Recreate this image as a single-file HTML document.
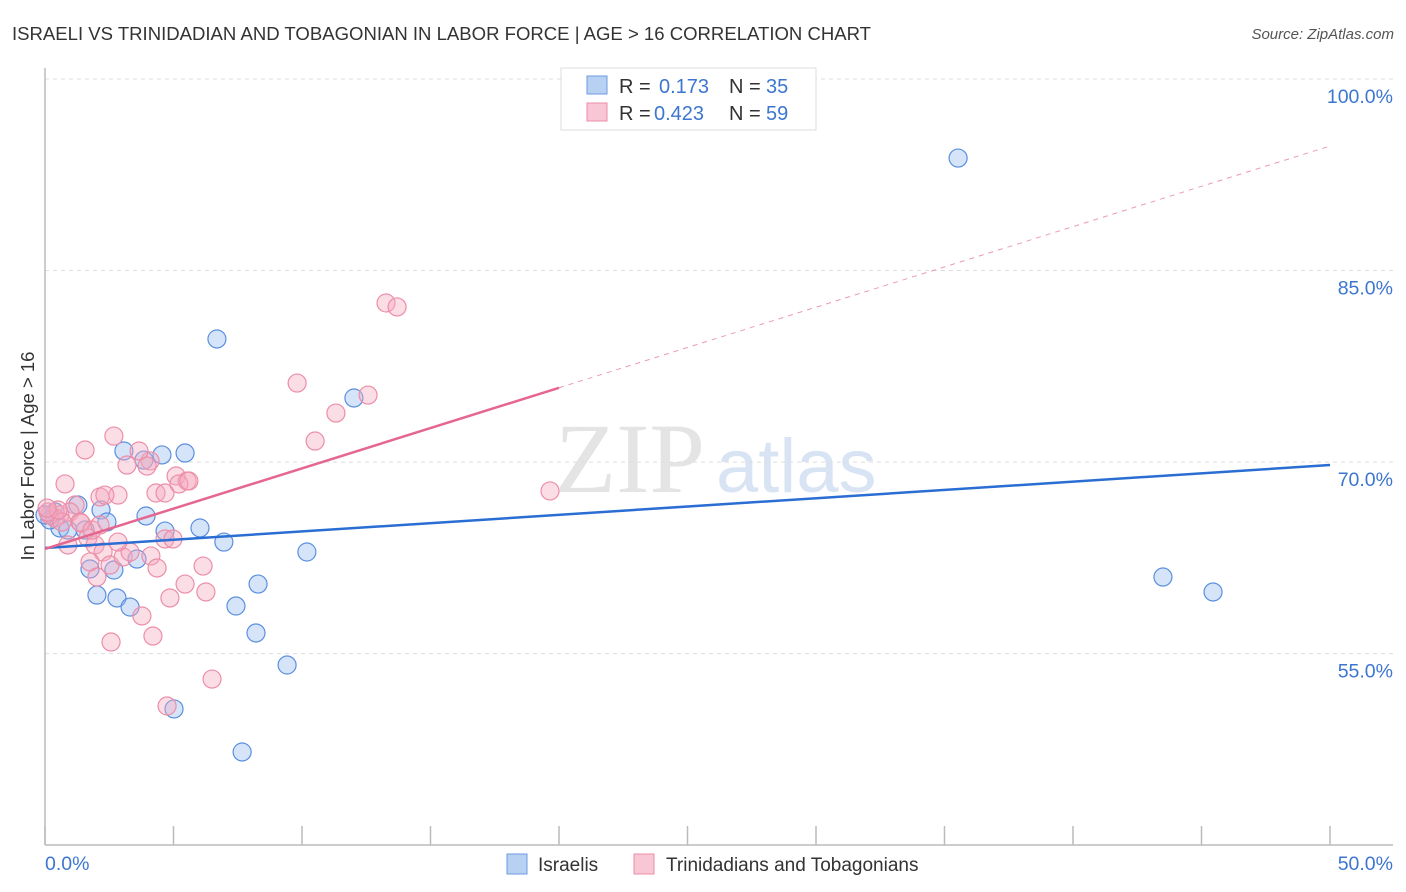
<!DOCTYPE html>
<html><head><meta charset="utf-8"><style>
body{margin:0;background:#fff;font-family:"Liberation Sans",sans-serif;}
svg{display:block}
</style></head><body>
<svg id="chart" width="1406" height="892">
<text x="12" y="40" font-size="18.5" fill="#333" textLength="859" lengthAdjust="spacingAndGlyphs">ISRAELI VS TRINIDADIAN AND TOBAGONIAN IN LABOR FORCE | AGE &gt; 16 CORRELATION CHART</text>
<text x="1394" y="39" font-size="15" fill="#555" font-style="italic" text-anchor="end">Source: ZipAtlas.com</text>
<text x="0" y="0" transform="translate(34,456) rotate(-90)" font-size="18.5" fill="#333" text-anchor="middle">In Labor Force | Age &gt; 16</text>
<text x="555" y="492" font-size="100" fill="#e4e4e4" font-family="Liberation Serif,serif">ZIP</text>
<text x="716" y="492" font-size="76" fill="#d8e4f4">atlas</text>
<g id="grid"></g>
<g id="axes"></g>
<g id="pts"></g>
<g id="lines"></g>
<g>
<rect x="561" y="68" width="255" height="62" fill="#fff" stroke="#ddd"/>
<rect x="587" y="76" width="20" height="18" fill="#b8d0f2" stroke="#6d9be0"/>
<rect x="587" y="103" width="20" height="18" fill="#f8c6d4" stroke="#ec8ea8"/>
<text x="619" y="93" font-size="20" fill="#333">R = <tspan x="659" fill="#3d76d0">0.173</tspan><tspan x="729">N = </tspan><tspan x="766" fill="#3d76d0">35</tspan></text>
<text x="619" y="120" font-size="20" fill="#333">R = <tspan x="654" fill="#3d76d0">0.423</tspan><tspan x="729">N = </tspan><tspan x="766" fill="#3d76d0">59</tspan></text>
</g>
<g>
<rect x="507" y="854" width="20" height="20" fill="#b8d0f2" stroke="#6d9be0"/>
<text x="538" y="871" font-size="19" fill="#333">Israelis</text>
<rect x="634" y="854" width="20" height="20" fill="#f8c6d4" stroke="#ec8ea8"/>
<text x="666" y="871" font-size="19" fill="#333">Trinidadians and Tobagonians</text>
</g>
</svg>
<script>
const blueX=[6.69,12.02,35.53,43.5,45.45,3.07,4.55,5.45,3.85,3.93,4.67,6.03,6.96,2.18,2.41,1.28,0.58,0.19,0.39,10.19,3.58,1.75,2.68,2.02,2.8,3.31,7.43,8.29,8.21,9.42,5.02,7.67,0,0.89,1.56];
const blueY=[79.64,75.02,93.81,61.0,59.83,70.87,70.56,70.71,70.16,65.78,64.6,64.84,63.74,66.25,65.31,66.64,64.84,65.47,66.09,62.96,62.41,61.63,61.55,59.59,59.36,58.65,58.73,60.45,56.62,54.11,50.67,47.3,65.86,64.68,64.68];
const pinkX=[2.68,1.56,4.09,3.66,3.19,3.97,0.78,2.14,2.84,4.32,4.67,5.1,5.53,5.21,5.6,9.81,10.51,11.32,12.57,13.27,13.7,19.65,1.17,0.97,1.36,0.58,0.39,0.19,0.12,1.67,1.95,2.26,2.53,3.04,3.31,4.12,4.36,0.89,1.75,2.02,2.84,4.67,4.98,6.15,5.45,4.86,6.26,3.77,4.2,2.57,6.5,4.75,1.4,1.83,2.14,0.66,0.51,0.08,2.33];
const pinkY=[72.04,70.95,70.09,70.87,69.77,69.69,68.29,67.27,67.42,67.58,67.58,68.91,68.52,68.29,68.52,76.19,71.65,73.84,75.25,82.46,82.15,67.74,66.64,66.09,65.31,65.86,65.62,65.86,66.09,64.06,63.51,62.96,61.94,62.57,62.96,62.65,61.71,63.51,62.18,61.0,63.74,63.98,63.98,61.86,60.45,59.36,59.83,57.95,56.38,55.91,53.01,50.9,65.23,64.68,65.08,65.31,66.25,66.4,67.42];
const blueTrend=[63.27,69.77];
const pinkTrend=[63.2,94.75];
const yTicks=[100,85,70,55];
const yTickLabels=["100.0%","85.0%","70.0%","55.0%"];
const xTickVals=[0,5,10,15,20,25,30,35,40,45,50];
const xLabels=["0.0%","50.0%"];
const NS="http://www.w3.org/2000/svg";
const sx=v=>45+v*25.7, sy=v=>79+(100-v)*12.77;
function mk(tag,attrs,parent){const e=document.createElementNS(NS,tag);for(const k in attrs)e.setAttribute(k,attrs[k]);document.getElementById(parent).appendChild(e);return e;}
yTicks.forEach((t,i)=>{
 const g=mk('line',{x1:45,x2:1393,y1:sy(t),y2:sy(t),stroke:'#ddd','stroke-dasharray':'4,4'},'grid');
 
 
 const l=mk('text',{x:1393,y:sy(t)+24,'font-size':19.5,fill:'#3d76d0','text-anchor':'end'},'grid');
 l.textContent=yTickLabels[i];
 
 
});
const ax=mk('line',{x1:45,x2:45,y1:68,y2:845,stroke:'#bbb','stroke-width':1.5},'axes');


const bx=mk('line',{x1:45,x2:1393,y1:845,y2:845,stroke:'#bbb','stroke-width':1.5},'axes');


xTickVals.forEach(v=>{
 const t=mk('line',{x1:sx(v),x2:sx(v),y1:826,y2:845,stroke:'#bbb','stroke-width':1.5},'axes');
 
 
});
[[0,'start',45],[50,'end',1393]].forEach((a,i)=>{
 const t=mk('text',{x:a[2],y:870,'font-size':19.5,fill:'#3d76d0','text-anchor':a[1]},'axes');
 t.textContent=xLabels[i];
 
 
});
blueX.forEach((x,i)=>{
 const c=mk('circle',{cx:sx(x),cy:sy(blueY[i]),r:9,fill:'rgba(150,188,240,0.4)',stroke:'#5b8fde','stroke-width':1.2},'pts');
 
 
});
pinkX.forEach((x,i)=>{
 const c=mk('circle',{cx:sx(x),cy:sy(pinkY[i]),r:9,fill:'rgba(246,170,192,0.4)',stroke:'#ec8ea8','stroke-width':1.2},'pts');
 
 
});
const bl=mk('line',{x1:sx(0),y1:sy(blueTrend[0]),x2:sx(50),y2:sy(blueTrend[1]),stroke:'#2a6dd3','stroke-width':2.5},'lines');


const pAt=x=>pinkTrend[0]+(pinkTrend[1]-pinkTrend[0])*x/50;
const pl=mk('line',{x1:sx(0),y1:sy(pAt(0)),x2:sx(20),y2:sy(pAt(20)),stroke:'#e5668f','stroke-width':2.5},'lines');


const pd=mk('line',{x1:sx(20),y1:sy(pAt(20)),x2:sx(50),y2:sy(pAt(50)),stroke:'#eb9ab4','stroke-width':1,'stroke-dasharray':'5,5'},'lines');


</script>
</body></html>
